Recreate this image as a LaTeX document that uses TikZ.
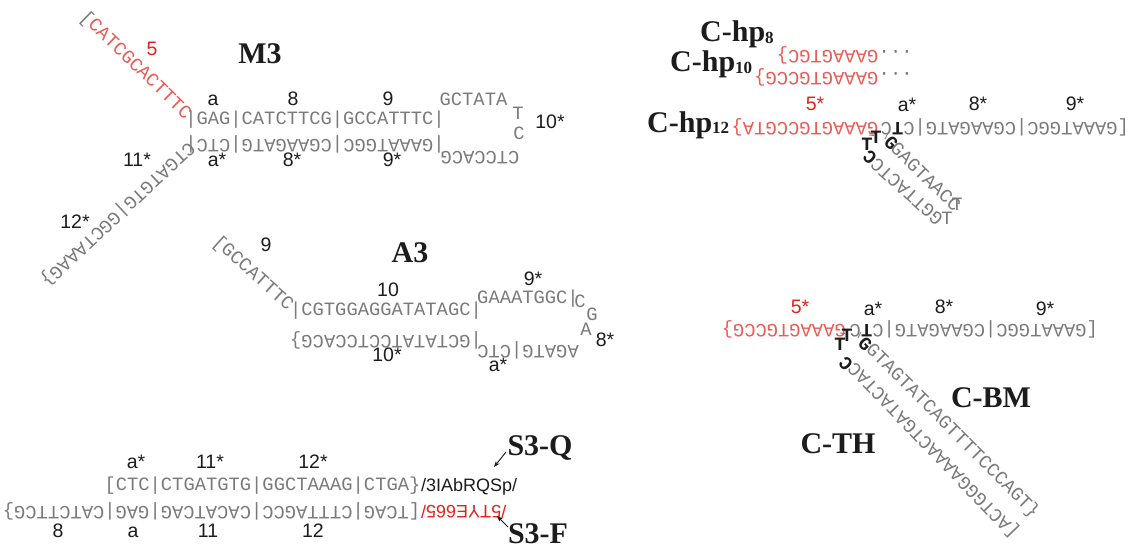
\documentclass[tikz,border=0pt]{standalone}
\usepackage{fontspec}
\setmainfont{Liberation Serif}
\newfontfamily\seqfam{Liberation Mono}
\newfontfamily\labfam{Liberation Sans}
\newfontfamily\ttlfam{Liberation Serif}
\usetikzlibrary{arrows.meta}
\definecolor{seqgrey}{HTML}{7A7A7A}
\definecolor{seqred}{HTML}{EC5A54}
\definecolor{labred}{HTML}{E2231A}
\definecolor{ink}{HTML}{1C1C1C}
\newcommand\seqsize{\fontsize{18.8}{20}\selectfont}
\newcommand\hpsub[1]{\raisebox{-1.5pt}{\fontsize{17}{17}\selectfont #1}}
\tikzset{
  seq/.style={font=\seqfam\seqsize, text=seqgrey, inner sep=0pt, text height=0.58em, text depth=0pt},
  redseq/.style={seq, text=seqred},
  boldbase/.style={seq, font=\seqfam\seqsize\bfseries, text=ink},
  lab/.style={font=\labfam\fontsize{19.5}{21}\selectfont, text=ink, inner sep=0pt, text height=0.72em, text depth=0pt},
  redlab/.style={lab, text=labred},
  mod/.style={lab, font=\labfam\fontsize{18}{20}\selectfont},
  ttl/.style={font=\ttlfam\bfseries\fontsize{30}{32}\selectfont, text=ink, inner sep=0pt, anchor=base},
  ptr/.style={-{Stealth[length=6pt,width=4.5pt]}, line width=0.9pt, draw=ink},
  pair/.style={draw=seqgrey, line width=0.8pt},
}
\begin{document}
\begin{tikzpicture}[x=1pt,y=-1pt]
\useasboundingbox (0,0) rectangle (1136,551);
\fill[white] (0,0) rectangle (1136,551);

%% ---------------- M3 ----------------
\node[redseq, rotate=-44] (m3five) at (134,67) {\textcolor{seqgrey}{[}CATCGCACTTTC};
\node[redlab] (m3fivel) at (152,52) {5};
\node[ttl] (m3) at (260,64) {M3};
\node[seq] (m3top) at (315,122) {|GAG|CATCTTCG|GCCATTTC|};
\node[seq, rotate=180] (m3bot) at (315,142) {|GAAATGGC|CGAAGATG|CTC|};
\node[seq] (m3loopa) at (473.5,103) {GCTATA};
\node[seq] (m3loopt) at (518,117) {T};
\node[seq] (m3loopc) at (519,137) {C};
\node[seq, rotate=180] (m3loopb) at (480,154) {CTCCACG};
\node[seq, rotate=-137] (m3arm) at (116,212.5) {CTGATGTG|GGCTAAAG\}};
\node[lab] (m3la) at (213,102) {a};
\node[lab] (m3l8) at (293,102) {8};
\node[lab] (m3l9) at (388,102) {9};
\node[lab] (m3las) at (217,163) {a*};
\node[lab] (m3l8s) at (292,163) {8*};
\node[lab] (m3l9s) at (392,163) {9*};
\node[lab] (m3l11s) at (137,163) {11*};
\node[lab] (m3l12s) at (75,225) {12*};
\node[lab] (m3l10s) at (550,125) {10*};

%% ---------------- A3 ----------------
\node[seq, rotate=-42] (a3nine) at (251.5,275) {[GCCATTTC};
\node[lab] (a3l9) at (266,248) {9};
\node[ttl] (a3) at (410,262) {A3};
\node[lab] (a3l10) at (388,293) {10};
\node[seq] (a3top) at (386,313) {|CGTGGAGGATATAGC|};
\node[seq, rotate=180] (a3bot) at (386,338) {|GCTATATCCTCCACG\}};
\node[lab] (a3l10s) at (387,358) {10*};
\node[seq] (a3ninestar) at (528,301) {GAAATGGC|};
\node[lab] (a3l9s) at (533,282) {9*};
\node[seq] (a3lc) at (580,305) {C};
\node[seq] (a3lg) at (592,318) {G};
\node[seq] (a3la) at (586,333) {A};
\node[lab] (a3l8s) at (605,343) {8*};
\node[seq, rotate=180] (a3tail) at (528,348) {AGATG|CTC};
\node[lab] (a3las) at (498,368) {a*};

%% ---------------- S3 ----------------
\node[lab] (s3las) at (136,465) {a*};
\node[lab] (s3l11s) at (210,465) {11*};
\node[lab] (s3l12s) at (313,465) {12*};
\node[seq] (s3qseq) at (262.5,488) {[CTC|CTGATGTG|GGCTAAAG|CTGA\}};
\node[mod, anchor=west] (quencher) at (421,488) {/3IAbRQSp/};
\node[seq, rotate=180] (s3fseq) at (211.5,509) {[TCAG|CTTTAGCC|CACATCAG|GAG|CATCTTCG\}};
\node[mod, text=labred, rotate=180, anchor=east] (fluor) at (421,509) {/5TYE665/};
\node[lab] (s3l8) at (58,534) {8};
\node[lab] (s3la) at (133,534) {a};
\node[lab] (s3l11) at (208,534) {11};
\node[lab] (s3l12) at (313,534) {12};
\node[ttl] (s3q) at (540,455) {S3-Q};
\node[ttl] (s3f) at (538,543) {S3-F};
\coordinate (qtail) at (506,452);
\coordinate (qtip) at (494,467);
\coordinate (ftail) at (508,527);
\coordinate (ftip) at (497,516);
\draw[ptr] (qtail) -- (qtip);
\draw[ptr] (ftail) -- (ftip);

%% ---------------- C-hp family ----------------
\node[ttl, anchor=base west] (hp8) at (700,42) {C-hp\hpsub{8}};
\node[ttl, anchor=base west] (hp10) at (670,72) {C-hp\hpsub{10}};
\node[ttl, anchor=base west] (hp12) at (647,132) {C-hp\hpsub{12}};

\node[redseq, rotate=180, anchor=west] (hp8seq) at (878.5,53) {GAAAGTGC\}};
\node[seq, rotate=180, anchor=east] (hp8dots) at (878.5,53) {...};
\node[redseq, rotate=180, anchor=west] (hp10seq) at (878.5,75) {GAAAGTGCCG\}};
\node[seq, rotate=180, anchor=east] (hp10dots) at (878.5,75) {...};

\node[redseq, rotate=180, anchor=west] (hp12red) at (878.5,125) {GAAAGTGCCGTA\}};
\node[seq, rotate=180, anchor=east] (hp12grey) at (880.5,125) {[GAAATGGC|CGAAGATG|C\textbf{\textcolor{ink}{T}}C};
\node[redlab] (hp12l5s) at (815,107) {5*};
\node[lab] (hp12las) at (907,108) {a*};
\node[lab] (hp12l8s) at (978,107) {8*};
\node[lab] (hp12l9s) at (1075,107) {9*};

% hairpin stem below the junction
\node[boldbase] (hpT1) at (876,141) {T};
\node[boldbase] (hpT2) at (867,148) {T};
\node[boldbase, rotate=138] (hpC) at (872,155) {C};
\node[boldbase, rotate=-45] (hpG) at (889,145) {G};
\coordinate (hpta) at (869,135);
\coordinate (hptb) at (874,135.5);
\coordinate (hpsa) at (885,139);
\coordinate (hpsb) at (888,133);
\draw[pair] (hpta) -- (hptb);
\draw[pair] (hpsa) -- (hpsb);
\node[seq, rotate=-44.5] (hpright) at (923.5,179) {GAGTAACC};
\node[seq] (hploop1) at (957,208) {T};
\node[seq] (hploop2) at (947,222) {T};
\node[seq, rotate=138] (hpleft) at (909,189.5) {GGTTACTC};

%% ---------------- C-BM / C-TH ----------------
\node[redseq, rotate=180, anchor=west] (bmred) at (846,327) {GAAAGTGCCG\}};
\node[seq, rotate=180, anchor=east] (bmgrey) at (849.5,327) {[GAAATGGC|CGAAGATG|C\textbf{\textcolor{ink}{T}}C};
\node[redlab] (bml5s) at (800,310) {5*};
\node[lab] (bmlas) at (873,312) {a*};
\node[lab] (bml8s) at (944,310) {8*};
\node[lab] (bml9s) at (1045,312) {9*};

\node[boldbase] (bmT1) at (847,339) {T};
\node[boldbase] (bmT2) at (840,348) {T};
\node[boldbase, rotate=134] (bmC) at (848,361) {C};
\node[boldbase, rotate=-45] (bmG) at (863,346) {G};
\coordinate (bmta) at (840,333);
\coordinate (bmtb) at (845,333.5);
\coordinate (bmsa) at (858,338);
\coordinate (bmsb) at (861,332);
\draw[pair] (bmta) -- (bmtb);
\draw[pair] (bmsa) -- (bmsb);
\node[seq, rotate=-45] (bmright) at (951,432.5) {GTAGTATCAGTTTTCCCAGT\}};
\node[seq, rotate=134] (thleft) at (935.5,448.5) {[ACTGGGAAAACTGATACTAC};
\node[ttl] (cbm) at (991,407) {C-BM};
\node[ttl] (cth) at (838,453) {C-TH};
\end{tikzpicture}
\end{document}
